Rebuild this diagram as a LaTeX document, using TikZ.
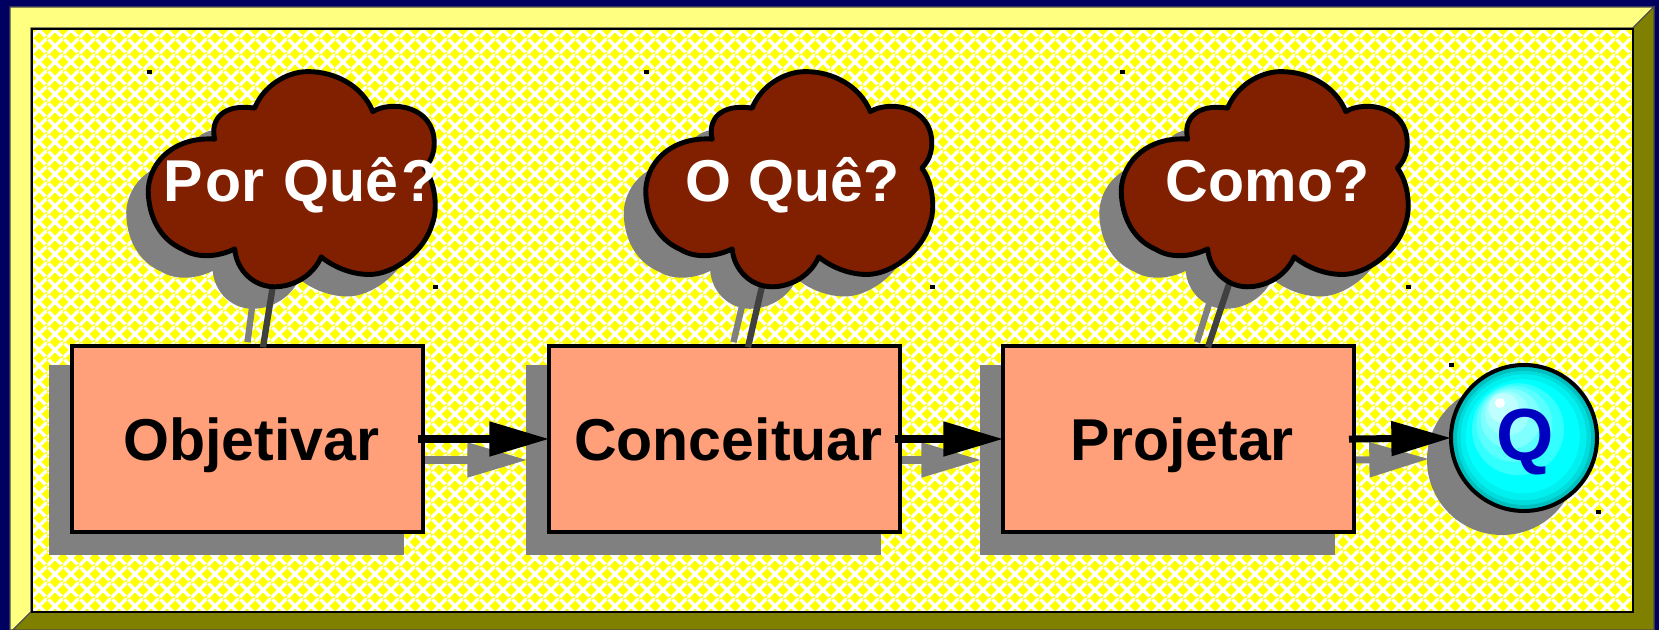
\documentclass[tikz,border=0pt]{standalone}
\usepackage{fontspec}
\setmainfont{Liberation Sans}
\usepackage{tikz}
\usetikzlibrary{arrows.meta,patterns,shadows}

\definecolor{navy}{RGB}{0,0,96}
\definecolor{bevellight}{RGB}{255,255,128}
\definecolor{beveldark}{RGB}{128,128,0}
\definecolor{panelyellow}{RGB}{255,255,0}
\definecolor{shadowgray}{RGB}{128,128,128}
\definecolor{boxsalmon}{RGB}{255,160,122}
\definecolor{cloudbrown}{RGB}{128,32,0}
\definecolor{ballcyan}{RGB}{0,255,255}
\definecolor{tailgray}{RGB}{64,64,64}
\definecolor{qblue}{RGB}{0,0,192}

\pgfdeclarepatternformonly{weave}{\pgfpointorigin}{\pgfqpoint{4.552pt}{4.552pt}}{\pgfqpoint{4.552pt}{4.552pt}}{
  \pgfsetlinewidth{1pt}
  \pgfpathmoveto{\pgfqpoint{-.3pt}{-.3pt}}\pgfpathlineto{\pgfqpoint{1.85pt}{1.85pt}}
  \pgfpathmoveto{\pgfqpoint{2.70pt}{2.70pt}}\pgfpathlineto{\pgfqpoint{4.85pt}{4.85pt}}
  \pgfpathmoveto{\pgfqpoint{.427pt}{4.125pt}}\pgfpathlineto{\pgfqpoint{4.125pt}{.427pt}}
  \pgfusepath{stroke}
}

\tikzset{
  stagebox/.style={draw=black,line width=1.15pt,fill=boxsalmon,minimum width=3.51cm,minimum height=1.855cm,
    font=\fontsize{16.8}{20}\selectfont\bfseries,text height=12pt,text depth=0pt,
    execute at begin node={\kern2.2pt},
    drop shadow={shadow xshift=-.21cm,shadow yshift=-.21cm,fill=shadowgray,draw=shadowgray,opacity=1}},
  cloudlabel/.style={text=white,anchor=base,inner sep=0pt,font=\fontsize{16.8}{20}\selectfont\bfseries},
  qball/.style={circle,draw=black,line width=1.15pt,minimum size=1.46cm,inner sep=0pt,text=qblue,
    font=\fontsize{21}{26}\selectfont\bfseries,text height=15pt,text depth=2pt},
  flow/.style={line width=2pt,-{Triangle[length=17pt,width=9.5pt]},shorten <=-2pt,shorten >=-.6pt},
  flowshadow/.style={line width=2pt,shadowgray,-{Triangle[length=17pt,width=9.5pt]},shorten >=-.6pt},
  tail/.style={line width=1.8pt,tailgray},
  tailshadow/.style={line width=1.8pt,shadowgray},
}

\newcommand{\cloudoutline}{(345,268) .. controls (330,210) and (370,160) .. (465,175)
  .. controls (490,110) and (560,65) .. (625,65)
  .. controls (710,65) and (790,110) .. (820,185)
  .. controls (880,150) and (1005,170) .. (1005,280)
  .. controls (1005,310) and (995,335) .. (975,355)
  .. controls (1010,400) and (1015,480) .. (1000,520)
  .. controls (975,610) and (880,675) .. (810,675)
  .. controls (760,675) and (705,655) .. (665,622)
  .. controls (640,680) and (580,712) .. (525,712)
  .. controls (460,712) and (410,660) .. (405,598)
  .. controls (350,625) and (290,625) .. (250,600)
  .. controls (180,570) and (145,500) .. (145,420)
  .. controls (150,330) and (230,260) .. (345,268) -- cycle}

\begin{document}
\begin{tikzpicture}
    \useasboundingbox (0,0) rectangle (16.59,6.30);
    \fill[navy] (0,0) rectangle (16.59,6.30);
    % frame
    \filldraw[fill=bevellight,draw=black!70,line width=.3pt] (.10,6.23) -- (16.54,6.23) -- (16.33,6.02) -- (.31,6.02) -- (.31,.18) -- (.13,0) -- (.10,0) -- cycle;
    \filldraw[fill=beveldark,draw=black!70,line width=.3pt] (16.54,6.23) -- (16.54,0) -- (.13,0) -- (.31,.18) -- (16.33,.18) -- (16.33,6.02) -- cycle;
    \fill[panelyellow] (.32,.18) rectangle (16.33,6.01);
    \fill[pattern=weave,pattern color=white] (.32,.18) rectangle (16.33,6.01);
    \draw[line width=.6pt] (.32,.18) rectangle (16.33,6.01);

    % clouds, shadows first
    \foreach \dx in {0,4.975,9.73} {
      \begin{scope}[shift={(\dx+.78,5.58)},x=.003333cm,y=-.003333cm]
        \fill[shadowgray] \cloudoutline;
      \end{scope}
    }
    \fill[shadowgray] (15.02,1.70) circle (.75);

    % boxes
    \node[stagebox] (objetivar) at (2.475,1.91) {Objetivar};
    \node[stagebox] (conceituar) at (7.245,1.91) {Conceituar};
    \node[stagebox] (projetar) at (11.785,1.91) {Projetar};

    % cloud tails
    \coordinate (tailwhy) at (2.73,3.45);
    \coordinate (tailwhat) at (7.63,3.48);
    \coordinate (tailhow) at (12.31,3.52);
    \coordinate (shadewhy) at (2.525,3.26);
    \coordinate (shadewhat) at (7.425,3.26);
    \coordinate (shadehow) at (12.10,3.29);
    \draw[tailshadow] (shadewhy) -- ([yshift=.02cm]objetivar.north);
    \draw[tailshadow] (shadewhat) -- ([xshift=.09cm,yshift=.02cm]conceituar.north);
    \draw[tailshadow] (shadehow) -- ([xshift=.185cm,yshift=.02cm]projetar.north);
    \draw[tail] (tailwhy) -- ([xshift=.155cm,yshift=-.03cm]objetivar.north);
    \draw[tail] (tailwhat) -- ([xshift=.235cm,yshift=-.03cm]conceituar.north);
    \draw[tail] (tailhow) -- ([xshift=.295cm,yshift=-.03cm]projetar.north);

    % clouds
    \foreach \dx in {0,4.975,9.73} {
      \begin{scope}[shift={(\dx+1,5.80)},x=.003333cm,y=-.003333cm]
        \filldraw[fill=cloudbrown,draw=black,line width=1.4pt,line join=round] \cloudoutline;
      \end{scope}
    }
    \node[cloudlabel] (why) at (3.005,4.28) {P\kern.7pt or\kern.8pt{} Quê\kern.8pt?};
    \node[cloudlabel] (what) at (7.925,4.28) {O Quê?};
    \node[cloudlabel] (how) at (12.675,4.28) {Como?};

    % ball
    \foreach \r/\t/\c in {.72/0/ballcyan!75!black,.67/0/ballcyan!86!black,.63/.02/ballcyan!94!black,
      .57/.05/ballcyan,.46/.25/ballcyan!80!white,.38/.4/ballcyan!65!white,.30/.55/ballcyan!50!white,
      .22/.7/ballcyan!38!white,.15/.85/ballcyan!25!white,.05/1/white} {
      \fill[\c] ({15.24-.24*\t},{1.92+.35*\t}) circle (\r);
    }
    \node[qball] (q) at (15.24,1.92) {\kern.6pt Q};

    % arrows
    \draw[flowshadow] ([yshift=-.21cm]objetivar.east) -- ([xshift=-.22cm,yshift=-.21cm]conceituar.west);
    \draw[flowshadow] ([yshift=-.21cm]conceituar.east) -- ([xshift=-.22cm,yshift=-.21cm]projetar.west);
    \draw[flowshadow] ([yshift=-.21cm]projetar.east) -- ([xshift=-.22cm,yshift=-.21cm]q.west);
    \draw[flow] (objetivar.east) -- (conceituar.west);
    \draw[flow] (conceituar.east) -- (projetar.west);
    \draw[flow] (projetar.east) -- (q.west);

    % handles
    \foreach \x/\y in {1.49/5.58,6.465/5.58,11.22/5.58,4.35/3.43,9.32/3.43,14.08/3.43,14.51/2.65,15.98/1.18} {
      \fill (\x-.025,\y-.02) rectangle (\x+.025,\y+.02);
    }
\end{tikzpicture}
\end{document}
